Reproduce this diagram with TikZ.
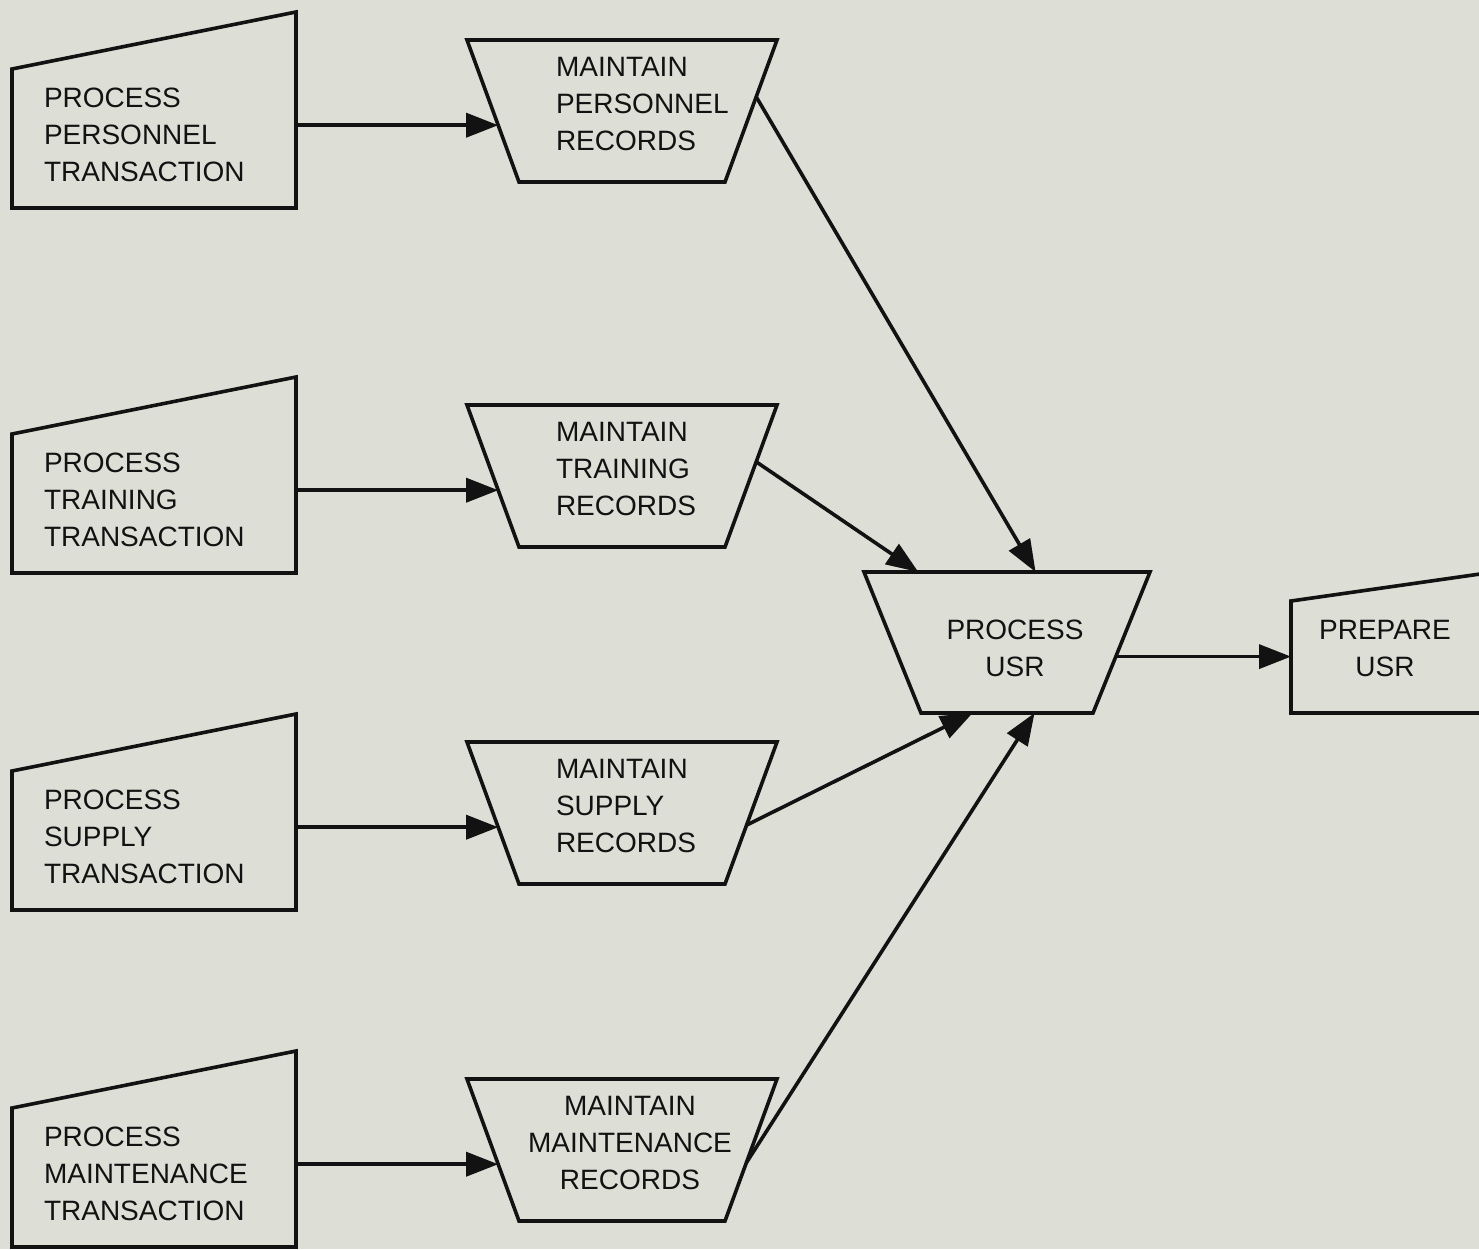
\documentclass[tikz,border=0pt]{standalone}
\usepackage{fontspec}
\setmainfont{Liberation Sans}
\usetikzlibrary{arrows.meta,calc}
\definecolor{paper}{RGB}{221,223,214}
\definecolor{ink}{RGB}{18,18,18}

\begin{document}
\begin{tikzpicture}[x=0.5pt,y=-0.5pt,
  every node/.style={inner sep=0pt,outer sep=0pt},
  lbl/.style={font=\fontsize{14pt}{18.5pt}\selectfont, text=ink},
  inbox/.style={draw=none, minimum width=142pt, minimum height=98pt},
  storebox/.style={draw=none, minimum width=155pt, minimum height=71pt},
  hubbox/.style={draw=none, minimum width=143pt, minimum height=70.5pt},
  edge/.style={draw=ink, line width=1.8pt, line join=miter},
  flow/.style={draw=ink, line width=1.8pt, -{Triangle[length=16pt,width=12pt]}}
]
% paper
\fill[paper] (0,0) rectangle (1479,1249);
\useasboundingbox (0,0) rectangle (1479,1249);
\clip (0,0) rectangle (1479,1249);

% transaction inputs (manual-input boxes)
\node[inbox] (in1) at (154,110) {};
\node[inbox] (in2) at (154,475) {};
\node[inbox] (in3) at (154,812) {};
\node[inbox] (in4) at (154,1149) {};
\foreach \k in {1,...,4}
  \draw[edge] (in\k.south west) -- ($(in\k.north west)+(0,57)$)
    -- (in\k.north east) -- (in\k.south east) -- cycle;

\node[lbl, anchor=north west, align=left] (in1t) at (44,88)   {PROCESS\\PERSONNEL\\TRANSACTION};
\node[lbl, anchor=north west, align=left] (in2t) at (44,453)  {PROCESS\\TRAINING\\TRANSACTION};
\node[lbl, anchor=north west, align=left] (in3t) at (44,790)  {PROCESS\\SUPPLY\\TRANSACTION};
\node[lbl, anchor=north west, align=left] (in4t) at (44,1127) {PROCESS\\MAINTENANCE\\TRANSACTION};

% record maintenance steps (inverted trapezoids)
\node[storebox] (tp1) at (622,111) {};
\node[storebox] (tp2) at (622,476) {};
\node[storebox] (tp3) at (622,813) {};
\node[storebox] (tp4) at (622,1150) {};
\foreach \k in {1,...,4} {
  \coordinate (tp\k tl) at (tp\k.north west);
  \coordinate (tp\k tr) at (tp\k.north east);
  \coordinate (tp\k bl) at ($(tp\k.south west)+(52,0)$);
  \coordinate (tp\k br) at ($(tp\k.south east)+(-52,0)$);
  \draw[edge] (tp\k tl) -- (tp\k tr) -- (tp\k br) -- (tp\k bl) -- cycle;
}

\node[lbl, anchor=north west, align=left] (tp1t) at (556,57)  {MAINTAIN\\PERSONNEL\\RECORDS};
\node[lbl, anchor=north west, align=left] (tp2t) at (556,422) {MAINTAIN\\TRAINING\\RECORDS};
\node[lbl, anchor=north west, align=left] (tp3t) at (556,759) {MAINTAIN\\SUPPLY\\RECORDS};
\node[lbl, anchor=north, align=center] (tp4t) at (630,1096) {MAINTAIN\\MAINTENANCE\\RECORDS};

% central processing step
\node[hubbox] (pu) at (1007,642.5) {};
\coordinate (putl) at (pu.north west);
\coordinate (putr) at (pu.north east);
\coordinate (publ) at ($(pu.south west)+(57,0)$);
\coordinate (pubr) at ($(pu.south east)+(-57,0)$);
\draw[edge] (putl) -- (putr) -- (pubr) -- (publ) -- cycle;
\node[lbl, anchor=north, align=center] (put) at (1015,620) {PROCESS\\USR};

% report preparation (runs off the right edge)
\node[draw=none, minimum width=112pt, minimum height=72pt] (pr) at (1403,641) {};
\draw[edge] (pr.south east) -- (pr.south west) -- ($(pr.north west)+(0,32)$) -- (pr.north east);
\node[lbl, anchor=north, align=center] (prt) at (1385,620) {PREPARE\\USR};

% inputs feed the maintenance steps
\foreach \k in {1,...,4} {
  \coordinate (a\k) at ($(tp\k tl)!0.6!(tp\k bl)$);
  \draw[flow] (in\k.east |- a\k) -- (a\k);
}

% maintenance steps feed the central step
\draw[flow] ($(tp1tr)!0.4!(tp1br)$) -- ($(putl)!0.6!(putr)$);
\draw[flow] ($(tp2tr)!0.4!(tp2br)$) -- ($(putl)!0.19!(putr)$);
\draw[flow] ($(tp3tr)!0.585!(tp3br)$) -- ($(publ)!0.3!(pubr)$);
\draw[flow] ($(tp4tr)!0.59!(tp4br)$) -- ($(publ)!0.66!(pubr)$);

% central step feeds the report
\coordinate (po) at ($(putr)!0.6!(pubr)$);
\draw[flow] (po) -- (po -| pr.west);
\end{tikzpicture}
\end{document}
